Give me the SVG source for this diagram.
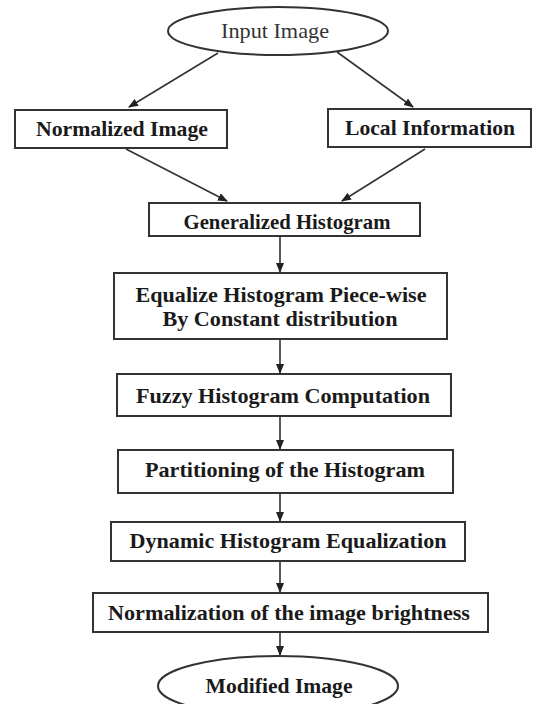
<svg xmlns="http://www.w3.org/2000/svg" width="533" height="704" viewBox="0 0 533 704">
<style>
.box{fill:#fff;stroke:#333;stroke-width:2}
.t{font-family:"Liberation Serif","Times New Roman",serif;font-weight:bold;font-size:21px;fill:#1a1a1a;text-anchor:middle}
.r{font-weight:normal;fill:#333}
.c{stroke:#333;stroke-width:1.6;fill:none}
</style>
<defs>
<marker id="ah" markerWidth="10" markerHeight="8" refX="9" refY="4" orient="auto" markerUnits="userSpaceOnUse">
<path d="M0,0 L10,4 L0,8 Z" fill="#222"/>
</marker>
</defs>
<rect width="533" height="704" fill="#fff"/>
<g id="connectors">
<line class="c" x1="218" y1="53" x2="129" y2="107" marker-end="url(#ah)"/>
<line class="c" x1="337" y1="52" x2="413" y2="107" marker-end="url(#ah)"/>
<line class="c" x1="126" y1="149" x2="227" y2="201" marker-end="url(#ah)"/>
<line class="c" x1="425" y1="149" x2="342" y2="201" marker-end="url(#ah)"/>
<line class="c" x1="280" y1="237" x2="280" y2="272" marker-end="url(#ah)"/>
<line class="c" x1="280" y1="339" x2="280" y2="373" marker-end="url(#ah)"/>
<line class="c" x1="280" y1="416" x2="280" y2="449" marker-end="url(#ah)"/>
<line class="c" x1="280" y1="493" x2="280" y2="521" marker-end="url(#ah)"/>
<line class="c" x1="280" y1="561" x2="280" y2="592" marker-end="url(#ah)"/>
<line class="c" x1="280" y1="632" x2="280" y2="655" marker-end="url(#ah)"/>
</g>
<g id="input-image">
<ellipse class="box" cx="278" cy="31" rx="110" ry="24" stroke-width="1.5"/>
<text class="t r" x="275" y="38" textLength="108" lengthAdjust="spacingAndGlyphs">Input Image</text>
</g>
<g id="normalized-image">
<rect class="box" x="15" y="110" width="212" height="38"/>
<text class="t" x="122" y="136" textLength="172" lengthAdjust="spacingAndGlyphs">Normalized Image</text>
</g>
<g id="local-information">
<rect class="box" x="328" y="109" width="203" height="38"/>
<text class="t" x="430" y="135" textLength="170" lengthAdjust="spacingAndGlyphs">Local Information</text>
</g>
<g id="generalized-histogram">
<rect class="box" x="149" y="203" width="271" height="33"/>
<text class="t" x="287" y="229" textLength="207" lengthAdjust="spacingAndGlyphs">Generalized Histogram</text>
</g>
<g id="equalize-histogram">
<rect class="box" x="114" y="273" width="333" height="66"/>
<text class="t" x="281" y="302" textLength="291" lengthAdjust="spacingAndGlyphs">Equalize Histogram Piece-wise</text>
<text class="t" x="280" y="326" textLength="235" lengthAdjust="spacingAndGlyphs">By Constant distribution</text>
</g>
<g id="fuzzy-histogram">
<rect class="box" x="117" y="374" width="334" height="42"/>
<text class="t" x="283" y="403" textLength="294" lengthAdjust="spacingAndGlyphs">Fuzzy Histogram Computation</text>
</g>
<g id="partitioning">
<rect class="box" x="118" y="450" width="335" height="43"/>
<text class="t" x="285" y="477" textLength="280" lengthAdjust="spacingAndGlyphs">Partitioning of the Histogram</text>
</g>
<g id="dynamic-equalization">
<rect class="box" x="111" y="522" width="354" height="39"/>
<text class="t" x="288" y="548" textLength="317" lengthAdjust="spacingAndGlyphs">Dynamic Histogram Equalization</text>
</g>
<g id="normalization-brightness">
<rect class="box" x="93" y="593" width="395" height="39"/>
<text class="t" x="289" y="620" textLength="362" lengthAdjust="spacingAndGlyphs">Normalization of the image brightness</text>
</g>
<g id="modified-image">
<ellipse class="box" cx="278" cy="686" rx="120" ry="30" stroke-width="1.5"/>
<text class="t" x="279" y="693" textLength="147" lengthAdjust="spacingAndGlyphs">Modified Image</text>
</g>
</svg>
